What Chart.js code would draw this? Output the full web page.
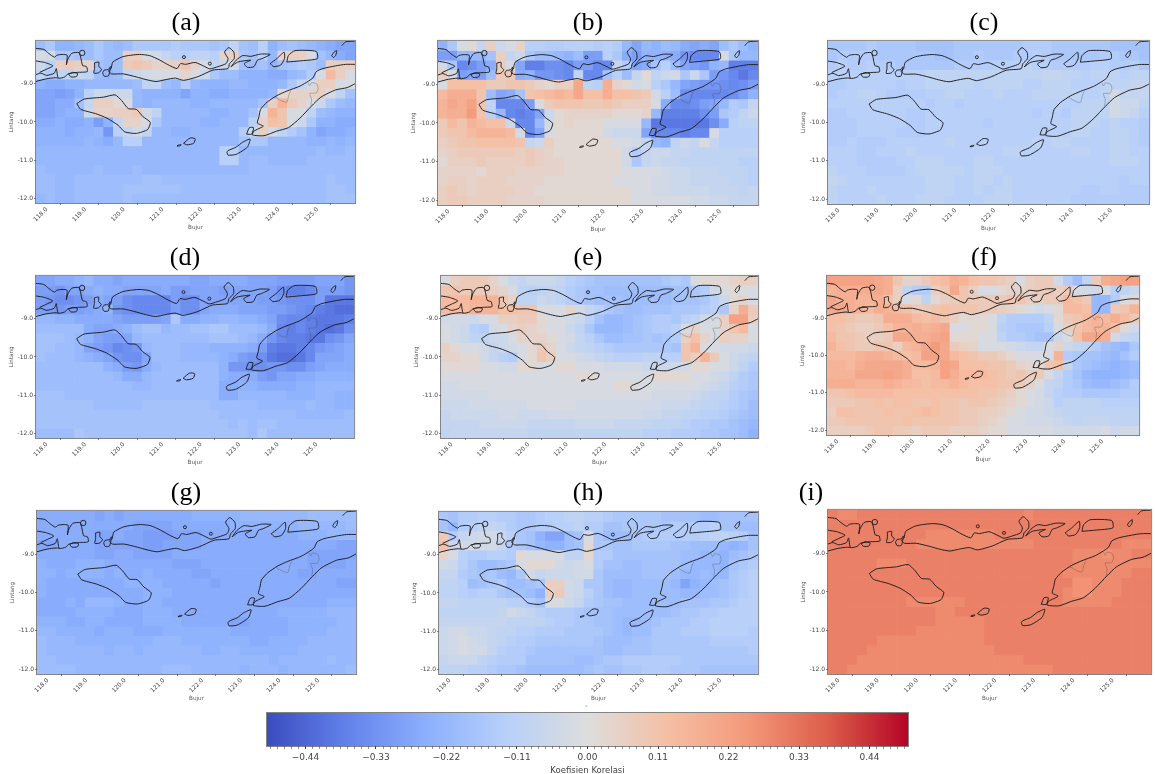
<!DOCTYPE html>
<html><head><meta charset="utf-8">
<script src="https://cdn.jsdelivr.net/npm/chart.js@4"></script>
<style>
html,body{margin:0;background:#fff;width:1155px;height:774px;overflow:hidden}
canvas{position:absolute}
.map{filter:blur(.55px)}
.t{position:absolute;font:26px/30px "Liberation Serif",serif;color:#000;transform:translate(-50%,-50%);white-space:nowrap;filter:blur(.3px)}
.stray{position:absolute;left:585px;top:702px;font:7px "DejaVu Sans",sans-serif;color:#555}
</style></head><body>
<div class="stray">-</div>
<script>
// ---- axis values
const lons=[118,118.25,118.5,118.75,119,119.25,119.5,119.75,120,120.25,120.5,120.75,121,121.25,121.5,121.75,122,122.25,122.5,122.75,123,123.25,123.5,123.75,124,124.25,124.5,124.75,125,125.25,125.5,125.75,126];
const lats=[-8,-8.25,-8.5,-8.75,-9,-9.25,-9.5,-9.75,-10,-10.25,-10.5,-10.75,-11,-11.25,-11.5,-11.75,-12];
const lonTicks=[118,119,120,121,122,123,124,125];
const latTicks=[-9,-10,-11,-12];
const panelNames=["(a)","(b)","(c)","(d)","(e)","(f)","(g)","(h)","(i)"];
// ---- correlation per cell, one string per latitude, 33 longitudes.
// letter = magnitude in steps of 0.02 (a=0.02, b=0.04 ...); lower case negative, upper case positive
const panelA=["jhllkjhjkjh hhhghhhihei jfljijklmnn","abhhijhjjCC abdffeefBCh ifkBCCaikmn","cfCDCBijjDE DBBCEBaecbi jilihghjCCC","egeedejkjdc baaaBachjjl llmmkjgaGCa","lmmllkkkkkj eejkgklllkk lllkhdbCCaa","nnonlfcccck llllnllmmll llkABBBCaei","nnmmidCCAak lkkkkllkkkk kiCHDBachjk","nnmllcBBCCD bekkkkkllkk iaHEaaejkll","mmlmmloldBB ahkkkkllkkk fBFEachllmm","lllmllkpfdb dkkllkkkkkg cCbegilnmml","lllllklmkff kkkkkkkkkki hhkkkkllklk","kkkkkkkkkkk kkkkkkkkffk kkkkkkkjkkj","kkkkkkkkkkk kkkkkkkkffk jjkkkkjjjjj","jkkkkkjkkkj kkkkkkkkkkk jjjjjjjjjjj","jjkkjjjjjjj iijjjjjjjjj jjjjjjjjijj","jjkkjjjjjii iiiijjjjjjj jjjjjjjjiij","kjkkjjjjjij jjjjjjjjjjj jjjjjjjjiii"];
const panelB=["lhaAdCcaBff ggfffgfgknk ljkmnmnjhjl","ookkkiCdchj jkljoofhmol llmprrrahkk","bhrqomCanss qqroorrdgnm ifjnoplksss","CaonojDDmlp pqrerrifjdA ecbhchoprtr","aFFFFDDEEDB ACCJefIBAba fhknoppqrqo","GIIIEjnmiEF GHGJFFIFFED bfjqrrrrqol","HJIKEerrroa DEEEDDEDCCC amrrqonkghd","HIILEfkrsrn cABBBBBAAAB kssssqohgec","DGEHGFFcrrk bABAAAaaaak ttttttqmfee","DEEGHHHGbrn aAAAAAbcccn rrrsrraffff","CDEEFFFFEdc CAAAAAAaabd klecdadffff","BCDDDDDDCDC BAAAAAAAbgd ccddeeeeeee","ACCCDCCCCDC BBAAAAAAbhd cddeeeeeeff","BBBBACCCBBB BBAAAAAAaaa abccdddeeef","BCCBCCCBBBB AAAAAAAaaaa bbccddddeef","CDCBCCCCBBA AAAAAAAAAaa bbccccddded","CDDCCCCBBBB AAAAAAAAAaa aaaabbccddd"];
const panelC=["hhhhghhhhii iihhhhhhhgg ghhhhhhiiii","hgggghhhhhh iihhghhhggf ghhhhhgghhi","gfggfgghhhh hhggggfffef fggggffggfh","ffffffffffe eeeeeeeeeee ddeefeeefee","ggfffffgffe eeeefeeeeff eeefffeeedd","gffeefggggf feefffefffe eeeeffebddd","ffffffffffg ffgffffffff ffffeeebcce","ggffffffggf ffffffffffg ffgeeeebcdf","gggfffffggf fffffgfffff fffeeefeffg","gggffffgggf fffffffffff fffeeffeefg","ggfgggfffff feffffffffe feeffffeefg","fffggfffeff fffffffeeff fffeeffeeff","fffggggffee efffeefffff fffffffeeef","efffggggfee eeefeeeffff fffffffffff","deffffffffe eeffeefefff ffffffffgff","efffefffffe eeffefeefff ffffggffggg","effffefffee effffeeefff fffgggggggg"];
const panelD=["nnmmlkmmnmm mmmmmnnmmmm nnnoooonnnp","oopnnmlmmnn nnmoonnnonn nnoqssrooop","opqqpomnoqr rrroqqnnnnn noopqqqottt","oopoonmlpqr rrroqqnmmmn nnoopqrstuu","kkllmmmmnoo oonhmmllkkl lmnqrrsttts","jjjjjmnnmlj iikjjiihhjj jkmrsrstutq","iiijklnoonk jjjjjjjiiij kmprssttqpn","iijjknoprqp kjjjkkkllll mosttsrponm","ijjjklmnpqq njjjkkkklmo pqtuutrnnnm","jjjjjjjlmop mkjjjjjjlpp qqppqqonmmm","jjjjjjjjkmm kjjjjjjjlmm mopnnmmllll","jjjjjjjjjjk kjjjjjjjmml lmmmmllkkkk","iiijjjjjjjj jjjjjjjjmmk kkkklllkkll","iiiiiijjjjj iiiiiiijjjj jkkkkkjkkll","iiiiiiiiiii iiiiiiiijjj jjjjjkkkkkj","iiiiiiiiiii iiiiiiiiiji jiijjjjjjjj","jjjjhiiiiii iiiiiiiiiii jhjjjjjjjjj"];
const panelE=["aCDDDBacdcc cdfghiiiiii ihghaAAABCC","EEDDDCBaefe deghiijjjjj jjiihgbaAaa","GGGHHHEBeec deghijiijjj jjiiihfcABa","GGGHHHFFEEa aaBbdfhijji iihhhgfhBID","bbbcaaCCDDA aabcfikkjih gghfebaCKKC","abcfgbaBCBA aacehkkkjih ggfaBaaBEGa","abceeccaBBB Aabdfhjjiih ihgCFBaCBBa","CAaabdcbaAD Bacdefghhhh hhiEHaabbbc","BBAAbdfgaAE Caabcdefffe effECHDacde","AAAAaabbAAa aAAaaabbbbc ccbbAAaaceg","aaaaaaaaaaa aaaAAaaaaaa AAAAaabcegh","bbaaaaaaaaa aaaaaaaAAaa aaaaabcdfgh","bbbbbaaaaaa aaaaaaaaaaa bbbbcdeeghi","cccbbbbbbaa aaabbbbbbbb bcccdeefghj","dcccccbbccc bbbbbbbbbbc cddeeffghij","ddddcccccdd dddccccdddd eeefgghhijk","eddddddddee eeeeeeeeeef ffggghhiijl"];
const panelF=["KKKKKJIEBBD FGIHFEEDCaC DDbgjeDIJKK","HIIIIJICegg CEJECaaABBC DDCDabbafec","JIIHHIFCaAe ACDEDDDDEEC CDDGFDkkgaA","JJIHGIHGFDD EFEEEDDCBAa baAGGFkkDEH","FFEDDEIIIGF GECAAAaeggg geADEGHGIGD","FEDCCDFHHIH IJaaAAafghh hfaCEGHHFAb","GEEDCCDJJII JKAAAaaeggh iicaFJJIbde","HFEDDEECGHJ LJDCBaaabcd daBcdegijkh","GGGHIIHGFGK KJGFEDDCAaa aaHghiijkig","HHGIJJJJIGG HKJFFFEEDBA AEFdhijklkj","HHHJJJKJIFF GKIGGGFEDEC Dadgiklllkj","IIIHHHIHGGF GGHGFFFEEDB adeghjkkjig","EEFGGGGFFFF FFFFFEEDCAa bdfgghhhhgg","DDDEEFEFFEE FEEDEEDCBAa bcfeeeeffff","CFFEEEFEEFG FEEDDCCBAab bcdeeeeeeee","DDEEEEEEFEE EEEDDCBAaab bbcdedddeee","CCCCDEEDDCD DDCCCBAAaaa aabbbbbacbb"];
const panelG=["mmmmmmnmnmm mmmmmlllllk kkkkkkjjjjj","mmmmmmmmmmn nnnmmmmmmll lllllkkkkkj","mmmmmmnnmnn ooonnnmmmmm mmmmmlllkkk","nnmmmmnnnnn oonnnnmmmmm mmmmmmmmmnn","mmmmmmnnmmn nnnmmmmmmmm mmmmmmnnnnn","lmmmlllmmmm mmmnnnmmmmm mmmmmmnnnnm","llmllllmlmm lmmmmnnmmmm mmmmmnnmmmm","lmmmmmmmmll llmmmmmnmmm mmmmmmmmmnn","lmmmmmmmmmm lllmmmmmmmm mmmmmmmmmmm","mmmlmkkklmm llmmmmmmmmm mmmmmmmmlll","mmmmllllmmm lllmmmmmmmm mmmlllllkkk","lllmmllmmmm llllmmmmmnn mmmmlllllkk","kkllllmlllm mmlllllllmm mmmmllllkkk","jkkklllllll lkkklllllll mmllllkkkkk","jkkkkkklkkl kkkkkkllkkl lllllkkkkkk","jjkkkkkkkkk kkkkkkkkkkk kklkkkkkjkk","jjjjkkkkkkk kkjjjkkkkkl kkklkkkkkkj"];
const panelH=["higgffgghhg ffeeffghhhh hiiiijjiiii","ikgfedeghhg gffeggiihhh hhggggfiijj","Dgdcbbcfhil nnjiahjjjhg gggggfeefgi","Fcbbbbdghik lljiAhhiihh hhiijjjklki","BafggffgAaa aaeeAggiiii iiijjkkljih","bcfhjjihaAA Abcbagiijji iiijkkklihg","ddghihjkhbd cccbbhjjjji iijkkjkkhgf","eefjihgjjih CCbchhjkkjj jjknlkjihgf","eefgffhiijl CDbcfhjkkjj jjjkkjjihgf","ddeeeeeffgi aacdghiijjj jjjiiihhgff","eeeeeedbcdf ggghiiijjjj jjihhggffff","dddddddeeee fgghhiijkkj ihhhggfffff","cbbccdeeffg gghhhhijkjj hhhgggffffg","cbabcdefggh hhhhhijjjii hhhhhhggggg","cbabbdfgghi iiiiiijjiii hhhhhhhhhhg","dcccefgggii iiijjihhggg ggghhhhhhhh","eeeffghhijj jjjjihiihhg gghhhiiiiii"];
const panelI=["ONNOOOOOOOO OOOOOOOOONO OOOOOOOOOOO","OOOOOOOOOOO OOOOOOOOOOO OOOOOOOOOOO","OOOOOOOOOON NNNNNNOOOOO OOOOOOOOOOO","OOOOOOOOONN NNNNNNNNNNO OOOOOOOONNN","OOOOOOOOOOO OOOOOOOOOOO OOONNNMNNOO","OOOOONNNOOO OOOOOOOOOOO OOONNNNNNNN","OOOOOOOOOOO OOOOOOOOOOO OONNNNNNNOO","OOOOOOOOOOO OOOOOOOOOOO OOOMMNNNOOO","OOOOOOOOOOO OOOOOOOOOOO OONMMNNNOOO","OOOOOOOONNN NNNOOOOOOOO OONNNNNOOOO","OOOOOOOOOOO NNOOOOOOOOO OOOOOOOOOOO","OOOOOOOOOOO NNNNNOOOOOO OOOOOOOOOOO","OOOOOOOOONN NNNNNOOOOOO OOOOOOOOOOO","OOOOONNNNNN NNNNNOOOOOO OOOOOOOOOOO","OOOONNNNNNN NNNNNNOOOOO OOOOOOOOOOO","OOONNNNNNNN NNNNNNNNNOO OOOOOOOOOOO","OONNNNNNNNN NNNNNNNNNNN NOOOOOOOOOO"];
const panelGrids=[panelA,panelB,panelC,panelD,panelE,panelF,panelG,panelH,panelI];
// ---- coastlines, lon/lat pairs
const coastWest1=[[117.87,-8.07],[118.08,-8.1],[118.2,-8.2],[118.35,-8.3],[118.42,-8.25],[118.55,-8.23],[118.68,-8.25],[118.66,-8.5],[118.7,-8.35],[118.8,-8.2],[118.98,-8.18],[119.03,-8.3],[119.08,-8.52],[119.18,-8.55],[119.2,-8.68],[118.95,-8.7],[118.7,-8.74],[118.62,-8.82],[118.45,-8.85],[118.4,-8.6],[118.35,-8.72],[118.15,-8.78],[118,-8.72],[117.87,-8.76]];
const coastWest2=[[117.87,-8.4],[118.1,-8.44],[118.31,-8.53],[118.14,-8.62],[117.97,-8.7]];
const coastWest3=[[117.87,-8.94],[118.14,-8.87],[118.37,-8.84],[118.45,-8.85]];
const islandSangeang=[[118.72,-8.75],[118.82,-8.7],[118.95,-8.73],[118.92,-8.81],[118.78,-8.82]];
const islandKomodo=[[119.39,-8.45],[119.5,-8.43],[119.5,-8.55],[119.57,-8.62],[119.5,-8.71],[119.37,-8.72],[119.39,-8.6]];
const islandRinca=[[119.64,-8.64],[119.75,-8.62],[119.8,-8.55],[119.75,-8.79],[119.64,-8.8],[119.6,-8.71]];
const islandFlores=[[119.82,-8.6],[119.86,-8.43],[120.09,-8.3],[120.26,-8.26],[120.55,-8.23],[120.81,-8.26],[121.06,-8.37],[121.27,-8.49],[121.52,-8.6],[121.61,-8.47],[121.74,-8.49],[121.99,-8.44],[122.24,-8.55],[122.37,-8.61],[122.58,-8.55],[122.79,-8.47],[122.84,-8.34],[122.75,-8.17],[122.86,-8.05],[122.99,-8.17],[123,-8.34],[122.88,-8.47],[122.84,-8.6],[122.45,-8.64],[122.07,-8.81],[121.69,-8.91],[121.48,-8.85],[121.23,-8.89],[120.98,-8.94],[120.72,-8.89],[120.47,-8.82],[120.13,-8.74],[119.83,-8.74],[119.75,-8.66]];
const islandLembata=[[122.92,-8.55],[123.05,-8.38],[123.22,-8.26],[123.43,-8.28],[123.68,-8.22],[123.93,-8.23],[123.72,-8.34],[123.6,-8.38],[123.51,-8.55],[123.34,-8.57],[123.26,-8.47],[123.43,-8.38],[123.09,-8.43]];
const islandPantar=[[123.93,-8.47],[124.1,-8.34],[124.29,-8.17],[124.3,-8.34],[124.2,-8.51],[124.02,-8.55]];
const islandAlor=[[124.36,-8.43],[124.4,-8.26],[124.57,-8.13],[125.12,-8.15],[125.15,-8.34],[124.69,-8.4]];
const islandAtauro=[[125.52,-8.26],[125.58,-8.17],[125.65,-8.13],[125.62,-8.26],[125.56,-8.31]];
const coastWetar=[[125.78,-8],[125.88,-7.9],[126.12,-7.88]];
const islandTimor=[[126.12,-8.49],[125.88,-8.49],[125.62,-8.53],[125.29,-8.6],[125.12,-8.68],[125.03,-8.85],[124.7,-9.06],[124.36,-9.19],[124.1,-9.31],[123.85,-9.48],[123.68,-9.67],[123.64,-9.86],[123.6,-10.03],[123.75,-10.11],[123.51,-10.24],[123.47,-10.34],[123.77,-10.36],[124.1,-10.24],[124.4,-10.15],[124.7,-9.9],[125,-9.58],[125.24,-9.35],[125.62,-9.16],[125.92,-9.1],[126.12,-9]];
const islandSemau=[[123.32,-10.32],[123.39,-10.15],[123.5,-10.15],[123.45,-10.32]];
const islandRote=[[122.81,-10.79],[122.84,-10.87],[123.05,-10.85],[123.34,-10.66],[123.41,-10.45],[123.22,-10.53],[123.05,-10.66],[122.84,-10.75]];
const islandSumba=[[118.93,-9.52],[119.12,-9.4],[119.62,-9.35],[119.92,-9.29],[120.09,-9.44],[120.26,-9.65],[120.47,-9.67],[120.64,-9.86],[120.83,-10.01],[120.76,-10.2],[120.47,-10.3],[120.17,-10.26],[120,-10.09],[119.71,-9.9],[119.41,-9.78],[119.03,-9.67]];
const islandSawu=[[121.69,-10.56],[121.86,-10.42],[121.99,-10.44],[121.95,-10.56],[121.78,-10.6]];
const islandRaijua=[[121.52,-10.63],[121.58,-10.6],[121.63,-10.6],[121.58,-10.63]];
const borderWest=[[124.06,-9.35],[124.23,-9.45],[124.36,-9.48],[124.41,-9.3],[124.46,-9.19]];
const borderEast=[[124.91,-8.97],[124.95,-9.05],[125,-8.97],[125.13,-9],[125.17,-9.12],[125.12,-9.24],[124.95,-9.25],[125,-9.4],[124.98,-9.57]];
const isletLon=[119.07,121.7,122.37];
const isletLat=[-8.19,-8.3,-8.47];
const openCoasts=[coastWest1,coastWest2,coastWest3,coastWetar,islandTimor];
const closedCoasts=[islandSangeang,islandKomodo,islandRinca,islandFlores,islandLembata,islandPantar,islandAlor,islandAtauro,islandSemau,islandRote,islandSumba,islandSawu,islandRaijua];
const borders=[borderWest,borderEast];
// ---- colour bar
const coolwarm=[[0,59,76,192],[.125,98,130,234],[.25,141,176,254],[.375,184,208,249],[.5,221,221,221],[.625,245,191,164],[.75,244,152,122],[.875,220,93,74],[1,180,4,38]];
const VMIN=-0.5, VMAX=0.5;
const barTickStep=0.011;
// ---- layout (page pixels): plot left, right, top, bottom, title x, title y
const panelBoxes=[[36,359,37,203,186,22],[438,762,37,205,588,22],[828,1153,37,204,984,22],
[36,358,272,438,185,257],[441,762,272,438,588,257],[827,1143,272,435,984,257],
[37,360,507,674,186,492],[439,762,508,674,588,492],[828,1155,506,674,811,492]];
const AXL=28, AXB=28;

function cellValue(ch){
  if(ch>='a'&&ch<='z') return -0.02*(ch.charCodeAt(0)-96);
  if(ch>='A'&&ch<='Z') return 0.02*(ch.charCodeAt(0)-64);
  return 0;
}
function colorOf(v){
  const t=Math.max(0,Math.min(1,(v-VMIN)/(VMAX-VMIN)));
  for(let i=1;i<coolwarm.length;i++){
    const a=coolwarm[i-1],b=coolwarm[i];
    if(t<=b[0]){const f=(t-a[0])/(b[0]-a[0]);
      return `rgb(${Math.round(a[1]+f*(b[1]-a[1]))},${Math.round(a[2]+f*(b[2]-a[2]))},${Math.round(a[3]+f*(b[3]-a[3]))})`;}
  }
  return 'rgb(180,4,38)';
}
const pts=a=>a.map(p=>({x:p[0],y:p[1]}));
const lineDs=(data,color,w)=>({type:'line',data,order:0,borderColor:color,borderWidth:w,pointRadius:0,fill:false,tension:.2});
function coastDatasets(){
  const out=[];
  openCoasts.forEach(c=>out.push(lineDs(pts(c),'#1c1c1c',.95)));
  closedCoasts.forEach(c=>out.push(lineDs(pts(c.concat([c[0]])),'#1c1c1c',.95)));
  borders.forEach(c=>out.push(lineDs(pts(c),'rgba(70,70,70,.55)',.6)));
  out.push({type:'line',order:0,showLine:false,data:isletLon.map((x,i)=>({x,y:isletLat[i]})),
    pointRadius:[2.7,1.5,1.5],pointBackgroundColor:'rgba(0,0,0,0)',pointBorderColor:'#1c1c1c',pointBorderWidth:.9});
  return out;
}
const framePlugin={id:'frame',afterDraw(c){const a=c.chartArea,x=c.ctx;x.save();x.strokeStyle='rgba(80,80,80,.7)';x.lineWidth=1;
  x.strokeRect(a.left-.5,a.top-.5,a.right-a.left+1,a.bottom-a.top+1);x.restore();}};

panelBoxes.forEach((b,idx)=>{
  const [L,R,T,B,tx,ty]=b;
  const cv=document.createElement('canvas');cv.className='map';
  const W=R-L+AXL+1,H=B-T+AXB+1;
  cv.width=W;cv.height=H;cv.style.cssText=`left:${L-AXL}px;top:${T-1}px;width:${W}px;height:${H}px`;
  document.body.appendChild(cv);
  const title=document.createElement('div');title.className='t';title.textContent=panelNames[idx];
  title.style.left=tx+'px';title.style.top=ty+'px';document.body.appendChild(title);
  const rows=panelGrids[idx].map(s=>s.replace(/ /g,''));
  const bars=lats.map((lat,r)=>({type:'bar',order:1,grouped:false,barPercentage:1,categoryPercentage:1,borderWidth:0,
    data:lons.map(lon=>({x:lon,y:[lat-.125,lat+.125]})),
    backgroundColor:lons.map((_,c)=>colorOf(cellValue(rows[r][c]||'')))}));
  new Chart(cv,{type:'bar',plugins:[framePlugin],
    data:{datasets:coastDatasets().concat(bars)},
    options:{responsive:false,animation:false,events:[],devicePixelRatio:1,
      layout:{padding:{top:1,right:1,left:0,bottom:0}},
      plugins:{legend:{display:false},tooltip:{enabled:false},title:{display:false}},
      scales:{
        x:{type:'linear',offset:false,min:117.875,max:126.125,
          afterBuildTicks:s=>{s.ticks=lonTicks.map(value=>({value}))},
          afterFit:s=>{s.height=AXB},
          grid:{display:true,drawOnChartArea:false,drawTicks:true,tickLength:2,tickColor:'#555',tickWidth:.7},
          border:{display:false},
          ticks:{autoSkip:false,minRotation:45,maxRotation:45,padding:1,labelOffset:6,color:'#444',font:{family:'DejaVu Sans',size:6},callback:v=>Number(v).toFixed(1)},
          title:{display:true,text:'Bujur',color:'#555',font:{family:'DejaVu Sans',size:5.7},padding:0}},
        y:{type:'linear',min:-12.125,max:-7.875,
          afterBuildTicks:s=>{s.ticks=latTicks.map(value=>({value}))},
          afterFit:s=>{s.width=AXL},
          grid:{display:true,drawOnChartArea:false,drawTicks:true,tickLength:2,tickColor:'#555',tickWidth:.7},
          border:{display:false},
          ticks:{autoSkip:false,padding:1,color:'#444',font:{family:'DejaVu Sans',size:6},callback:v=>Number(v).toFixed(1)},
          title:{display:true,text:'Lintang',color:'#555',font:{family:'DejaVu Sans',size:5.7},padding:0}}
      }}});
});

// colour bar
(function(){
  const L=267,R=908,T=713,B=746,bottomSpace=30;
  const cv=document.createElement('canvas');cv.className='map';
  const W=R-L+10,H=B-T+bottomSpace+1;
  cv.width=W;cv.height=H;cv.style.cssText=`left:${L-5}px;top:${T-1}px;width:${W}px;height:${H}px`;
  document.body.appendChild(cv);
  new Chart(cv,{type:'bar',plugins:[framePlugin],
    data:{labels:['r'],datasets:[{data:[[VMIN,VMAX]],barPercentage:1,categoryPercentage:1,borderWidth:0,
      backgroundColor:c=>{const a=c.chart.chartArea;if(!a)return '#ddd';
        const g=c.chart.ctx.createLinearGradient(a.left,0,a.right,0);
        coolwarm.forEach(s=>g.addColorStop(s[0],`rgb(${s[1]},${s[2]},${s[3]})`));return g;}}]},
    options:{indexAxis:'y',responsive:false,animation:false,events:[],devicePixelRatio:1,
      layout:{padding:{top:1,left:5,right:5,bottom:0}},
      plugins:{legend:{display:false},tooltip:{enabled:false}},
      scales:{
        y:{display:false,type:'category',offset:true},
        x:{type:'linear',offset:false,min:VMIN,max:VMAX,
          afterBuildTicks:s=>{const t=[];for(let k=-45;k<=45;k++)t.push({value:k*barTickStep});s.ticks=t;},
          afterFit:s=>{s.height=bottomSpace},
          grid:{display:true,drawOnChartArea:false,drawTicks:true,tickLength:3,
            tickColor:c=>Math.round((c.tick?c.tick.value:0)/barTickStep)%10===0?'#333':'#666',
            tickWidth:c=>Math.round((c.tick?c.tick.value:0)/barTickStep)%10===0?1:.7},
          border:{display:false},
          ticks:{autoSkip:false,maxRotation:0,minRotation:0,padding:3,color:'#444',font:{family:'DejaVu Sans',size:9},
            callback:v=>{const k=Math.round(v/barTickStep);return k%10===0?(v<-1e-9?'\u2212':'')+Math.abs(v).toFixed(2):'';}},
          title:{display:true,text:'Koefisien Korelasi',color:'#444',font:{family:'DejaVu Sans',size:8.5},padding:0}}
      }}});
})();
</script>
</body></html>
